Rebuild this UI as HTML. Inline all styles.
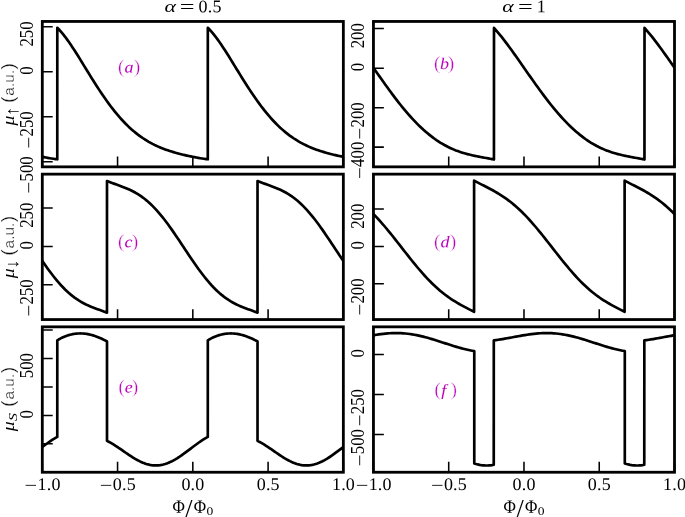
<!DOCTYPE html>
<html><head><meta charset="utf-8"><title>figure</title>
<style>html,body{margin:0;padding:0;background:#fff}svg{display:block}.s{font-family:"Liberation Serif",serif}.ss{font-family:"Liberation Sans",sans-serif}.i{font-style:italic}</style></head><body>
<svg width="685" height="517" viewBox="0 0 685 517">
<rect width="685" height="517" fill="#fff"/>
<defs>
<clipPath id="cpa"><rect x="42.30" y="21.45" width="301.05" height="145.40"/></clipPath>
<clipPath id="cpb"><rect x="373.45" y="21.45" width="301.05" height="145.40"/></clipPath>
<clipPath id="cpc"><rect x="42.30" y="174.15" width="301.05" height="145.40"/></clipPath>
<clipPath id="cpd"><rect x="373.45" y="174.15" width="301.05" height="145.40"/></clipPath>
<clipPath id="cpe"><rect x="42.30" y="326.85" width="301.05" height="145.40"/></clipPath>
<clipPath id="cpf"><rect x="373.45" y="326.85" width="301.05" height="145.40"/></clipPath>
</defs>
<g clip-path="url(#cpa)"><path d="M-106.59 157.18 L-104.68 157.54 L-102.78 157.88 L-100.87 158.21 L-98.97 158.51 L-97.06 158.80 L-95.16 159.06 L-93.25 159.29 L-93.23 27.81 L-91.32 29.75 L-89.41 31.86 L-87.51 34.14 L-85.60 36.56 L-83.70 39.11 L-81.79 41.78 L-79.89 44.55 L-77.98 47.40 L-76.08 50.32 L-74.17 53.30 L-72.27 56.33 L-70.36 59.39 L-68.46 62.48 L-66.55 65.58 L-64.65 68.68 L-62.74 71.78 L-60.84 74.87 L-58.93 77.93 L-57.03 80.97 L-55.12 83.98 L-53.22 86.94 L-51.31 89.86 L-49.41 92.73 L-47.50 95.55 L-45.60 98.30 L-43.69 100.99 L-41.79 103.62 L-39.88 106.18 L-37.98 108.66 L-36.07 111.08 L-34.17 113.42 L-32.26 115.68 L-30.36 117.87 L-28.45 119.98 L-26.55 122.01 L-24.64 123.97 L-22.74 125.85 L-20.83 127.66 L-18.93 129.38 L-17.02 131.04 L-15.12 132.62 L-13.21 134.13 L-11.31 135.57 L-9.40 136.94 L-7.50 138.25 L-5.59 139.49 L-3.69 140.67 L-1.78 141.80 L0.12 142.86 L2.03 143.87 L3.93 144.83 L5.84 145.74 L7.74 146.60 L9.65 147.42 L11.55 148.20 L13.46 148.94 L15.36 149.64 L17.27 150.31 L19.17 150.95 L21.08 151.55 L22.98 152.14 L24.89 152.69 L26.79 153.22 L28.70 153.73 L30.60 154.22 L32.51 154.69 L34.41 155.15 L36.32 155.58 L38.22 156.01 L40.13 156.41 L42.03 156.80 L43.94 157.18 L45.84 157.54 L47.75 157.88 L49.65 158.21 L51.56 158.51 L53.46 158.80 L55.37 159.06 L57.28 159.29 L57.30 27.81 L59.21 29.75 L61.11 31.86 L63.02 34.14 L64.92 36.56 L66.83 39.11 L68.73 41.78 L70.64 44.55 L72.54 47.40 L74.45 50.32 L76.35 53.30 L78.26 56.33 L80.16 59.39 L82.07 62.48 L83.97 65.58 L85.88 68.68 L87.78 71.78 L89.69 74.87 L91.59 77.93 L93.50 80.97 L95.40 83.98 L97.31 86.94 L99.21 89.86 L101.12 92.73 L103.02 95.55 L104.93 98.30 L106.83 100.99 L108.74 103.62 L110.64 106.18 L112.55 108.66 L114.45 111.08 L116.36 113.42 L118.26 115.68 L120.17 117.87 L122.07 119.98 L123.98 122.01 L125.88 123.97 L127.79 125.85 L129.69 127.66 L131.60 129.38 L133.50 131.04 L135.41 132.62 L137.31 134.13 L139.22 135.57 L141.12 136.94 L143.03 138.25 L144.93 139.49 L146.84 140.67 L148.74 141.80 L150.65 142.86 L152.55 143.87 L154.46 144.83 L156.36 145.74 L158.27 146.60 L160.17 147.42 L162.08 148.20 L163.98 148.94 L165.89 149.64 L167.79 150.31 L169.70 150.95 L171.60 151.55 L173.51 152.14 L175.41 152.69 L177.32 153.22 L179.22 153.73 L181.13 154.22 L183.03 154.69 L184.94 155.15 L186.84 155.58 L188.75 156.01 L190.65 156.41 L192.56 156.80 L194.46 157.18 L196.37 157.54 L198.27 157.88 L200.18 158.21 L202.08 158.51 L203.99 158.80 L205.89 159.06 L207.80 159.29 L207.82 27.81 L209.73 29.75 L211.64 31.86 L213.54 34.14 L215.45 36.56 L217.35 39.11 L219.26 41.78 L221.16 44.55 L223.07 47.40 L224.97 50.32 L226.88 53.30 L228.78 56.33 L230.69 59.39 L232.59 62.48 L234.50 65.58 L236.40 68.68 L238.31 71.78 L240.21 74.87 L242.12 77.93 L244.02 80.97 L245.93 83.98 L247.83 86.94 L249.74 89.86 L251.64 92.73 L253.55 95.55 L255.45 98.30 L257.36 100.99 L259.26 103.62 L261.17 106.18 L263.07 108.66 L264.98 111.08 L266.88 113.42 L268.79 115.68 L270.69 117.87 L272.60 119.98 L274.50 122.01 L276.41 123.97 L278.31 125.85 L280.22 127.66 L282.12 129.38 L284.03 131.04 L285.93 132.62 L287.84 134.13 L289.74 135.57 L291.65 136.94 L293.55 138.25 L295.46 139.49 L297.36 140.67 L299.27 141.80 L301.17 142.86 L303.08 143.87 L304.98 144.83 L306.89 145.74 L308.79 146.60 L310.70 147.42 L312.60 148.20 L314.51 148.94 L316.41 149.64 L318.32 150.31 L320.22 150.95 L322.13 151.55 L324.03 152.14 L325.94 152.69 L327.84 153.22 L329.75 153.73 L331.65 154.22 L333.56 154.69 L335.46 155.15 L337.37 155.58 L339.27 156.01 L341.18 156.41 L343.08 156.80 L344.99 157.18 L346.89 157.54 L348.80 157.88 L350.70 158.21 L352.61 158.51 L354.51 158.80 L356.42 159.06 L358.33 159.29 L358.35 27.81 L360.26 29.75 L362.16 31.86 L364.07 34.14 L365.97 36.56 L367.88 39.11 L369.78 41.78 L371.69 44.55 L373.59 47.40 L375.50 50.32 L377.40 53.30 L379.31 56.33 L381.21 59.39 L383.12 62.48 L385.02 65.58 L386.93 68.68 L388.83 71.78 L390.74 74.87 L392.64 77.93 L394.55 80.97 L396.45 83.98 L398.36 86.94 L400.26 89.86 L402.17 92.73 L404.07 95.55 L405.98 98.30 L407.88 100.99 L409.79 103.62 L411.69 106.18 L413.60 108.66 L415.50 111.08 L417.41 113.42 L419.31 115.68 L421.22 117.87 L423.12 119.98 L425.03 122.01 L426.93 123.97 L428.84 125.85 L430.74 127.66 L432.65 129.38 L434.55 131.04 L436.46 132.62 L438.36 134.13 L440.27 135.57 L442.17 136.94 L444.08 138.25 L445.98 139.49 L447.89 140.67 L449.79 141.80 L451.70 142.86 L453.60 143.87 L455.51 144.83 L457.41 145.74 L459.32 146.60 L461.22 147.42 L463.13 148.20 L465.03 148.94 L466.94 149.64 L468.84 150.31 L470.75 150.95 L472.65 151.55 L474.56 152.14 L476.46 152.69 L478.37 153.22 L480.27 153.73 L482.18 154.22 L484.08 154.69 L485.99 155.15 L487.89 155.58 L489.80 156.01 L491.70 156.41 L493.61 156.80" fill="none" stroke="#000" stroke-width="2.68" stroke-linejoin="round" stroke-linecap="butt"/></g>
<path d="M42.30 166.85 V156.45 M117.56 166.85 V156.45 M192.82 166.85 V156.45 M268.09 166.85 V156.45 M343.35 166.85 V156.45 M42.30 26.80 H52.70 M42.30 71.75 H52.70 M42.30 116.70 H52.70 M42.30 161.65 H52.70" stroke="#000" stroke-width="1.55" fill="none"/>
<rect x="42.30" y="21.45" width="301.05" height="145.40" fill="none" stroke="#000" stroke-width="2.80"/>
<g class="s" font-size="16.8" transform="translate(33.00 21.40) rotate(-90) scale(1 1.090)"><text text-anchor="end" x="0" y="0">250</text></g>
<g class="s" font-size="16.8" transform="translate(33.00 66.35) rotate(-90) scale(1 1.090)"><text text-anchor="end" x="0" y="0">0</text></g>
<g class="s" font-size="16.8" transform="translate(33.00 111.30) rotate(-90) scale(1 1.090)"><text text-anchor="end" x="0" y="0">250</text><text x="-37.20" y="2.0" textLength="11.7" lengthAdjust="spacingAndGlyphs">−</text></g>
<g class="s" font-size="16.8" transform="translate(33.00 156.25) rotate(-90) scale(1 1.090)"><text text-anchor="end" x="0" y="0">500</text><text x="-37.20" y="2.0" textLength="11.7" lengthAdjust="spacingAndGlyphs">−</text></g>
<g clip-path="url(#cpb)"><path d="M223.42 68.44 L225.33 71.18 L227.23 73.90 L229.14 76.62 L231.04 79.33 L232.95 82.02 L234.85 84.69 L236.76 87.33 L238.66 89.95 L240.57 92.54 L242.47 95.10 L244.38 97.63 L246.28 100.11 L248.19 102.56 L250.09 104.96 L252.00 107.31 L253.90 109.62 L255.80 111.88 L257.71 114.09 L259.61 116.25 L261.52 118.35 L263.42 120.40 L265.33 122.39 L267.23 124.32 L269.14 126.19 L271.04 128.00 L272.95 129.76 L274.85 131.45 L276.76 133.08 L278.66 134.65 L280.57 136.15 L282.47 137.60 L284.37 138.99 L286.28 140.31 L288.18 141.57 L290.09 142.78 L291.99 143.92 L293.90 145.01 L295.80 146.04 L297.71 147.02 L299.61 147.94 L301.52 148.81 L303.42 149.62 L305.33 150.39 L307.23 151.11 L309.14 151.79 L311.04 152.42 L312.95 153.01 L314.85 153.57 L316.75 154.09 L318.66 154.57 L320.56 155.03 L322.47 155.46 L324.37 155.87 L326.28 156.26 L328.18 156.63 L330.09 156.99 L331.99 157.35 L333.90 157.70 L335.80 158.04 L337.71 158.39 L339.61 158.75 L341.52 159.13 L343.42 159.52 L343.48 27.94 L345.38 30.08 L347.28 32.30 L349.19 34.60 L351.09 36.96 L353.00 39.38 L354.90 41.86 L356.81 44.39 L358.71 46.95 L360.62 49.56 L362.52 52.20 L364.43 54.87 L366.33 57.56 L368.24 60.26 L370.14 62.98 L372.05 65.71 L373.95 68.44 L375.85 71.18 L377.76 73.90 L379.66 76.62 L381.57 79.33 L383.47 82.02 L385.38 84.69 L387.28 87.33 L389.19 89.95 L391.09 92.54 L393.00 95.10 L394.90 97.63 L396.81 100.11 L398.71 102.56 L400.62 104.96 L402.52 107.31 L404.42 109.62 L406.33 111.88 L408.23 114.09 L410.14 116.25 L412.04 118.35 L413.95 120.40 L415.85 122.39 L417.76 124.32 L419.66 126.19 L421.57 128.00 L423.47 129.76 L425.38 131.45 L427.28 133.08 L429.19 134.65 L431.09 136.15 L433.00 137.60 L434.90 138.99 L436.80 140.31 L438.71 141.57 L440.61 142.78 L442.52 143.92 L444.42 145.01 L446.33 146.04 L448.23 147.02 L450.14 147.94 L452.04 148.81 L453.95 149.62 L455.85 150.39 L457.76 151.11 L459.66 151.79 L461.57 152.42 L463.47 153.01 L465.37 153.57 L467.28 154.09 L469.18 154.57 L471.09 155.03 L472.99 155.46 L474.90 155.87 L476.80 156.26 L478.71 156.63 L480.61 156.99 L482.52 157.35 L484.42 157.70 L486.33 158.04 L488.23 158.39 L490.14 158.75 L492.04 159.13 L493.95 159.52 L494.00 27.94 L495.90 30.08 L497.81 32.30 L499.71 34.60 L501.62 36.96 L503.52 39.38 L505.43 41.86 L507.33 44.39 L509.24 46.95 L511.14 49.56 L513.05 52.20 L514.95 54.87 L516.86 57.56 L518.76 60.26 L520.67 62.98 L522.57 65.71 L524.47 68.44 L526.38 71.18 L528.28 73.90 L530.19 76.62 L532.09 79.33 L534.00 82.02 L535.90 84.69 L537.81 87.33 L539.71 89.95 L541.62 92.54 L543.52 95.10 L545.43 97.63 L547.33 100.11 L549.24 102.56 L551.14 104.96 L553.05 107.31 L554.95 109.62 L556.85 111.88 L558.76 114.09 L560.66 116.25 L562.57 118.35 L564.47 120.40 L566.38 122.39 L568.28 124.32 L570.19 126.19 L572.09 128.00 L574.00 129.76 L575.90 131.45 L577.81 133.08 L579.71 134.65 L581.62 136.15 L583.52 137.60 L585.42 138.99 L587.33 140.31 L589.23 141.57 L591.14 142.78 L593.04 143.92 L594.95 145.01 L596.85 146.04 L598.76 147.02 L600.66 147.94 L602.57 148.81 L604.47 149.62 L606.38 150.39 L608.28 151.11 L610.19 151.79 L612.09 152.42 L614.00 153.01 L615.90 153.57 L617.80 154.09 L619.71 154.57 L621.61 155.03 L623.52 155.46 L625.42 155.87 L627.33 156.26 L629.23 156.63 L631.14 156.99 L633.04 157.35 L634.95 157.70 L636.85 158.04 L638.76 158.39 L640.66 158.75 L642.57 159.13 L644.47 159.52 L644.52 27.94 L646.43 30.08 L648.33 32.30 L650.24 34.60 L652.14 36.96 L654.05 39.38 L655.95 41.86 L657.86 44.39 L659.76 46.95 L661.67 49.56 L663.57 52.20 L665.48 54.87 L667.38 57.56 L669.29 60.26 L671.19 62.98 L673.10 65.71 L675.00 68.44 L676.90 71.18 L678.81 73.90 L680.71 76.62 L682.62 79.33 L684.52 82.02 L686.43 84.69 L688.33 87.33 L690.24 89.95 L692.14 92.54 L694.05 95.10 L695.95 97.63 L697.86 100.11 L699.76 102.56 L701.67 104.96 L703.57 107.31 L705.47 109.62 L707.38 111.88 L709.28 114.09 L711.19 116.25 L713.09 118.35 L715.00 120.40 L716.90 122.39 L718.81 124.32 L720.71 126.19 L722.62 128.00 L724.52 129.76 L726.43 131.45 L728.33 133.08 L730.24 134.65 L732.14 136.15 L734.05 137.60 L735.95 138.99 L737.85 140.31 L739.76 141.57 L741.66 142.78 L743.57 143.92 L745.47 145.01 L747.38 146.04 L749.28 147.02 L751.19 147.94 L753.09 148.81 L755.00 149.62 L756.90 150.39 L758.81 151.11 L760.71 151.79 L762.62 152.42 L764.52 153.01 L766.42 153.57 L768.33 154.09 L770.23 154.57 L772.14 155.03 L774.04 155.46 L775.95 155.87 L777.85 156.26 L779.76 156.63 L781.66 156.99 L783.57 157.35 L785.47 157.70 L787.38 158.04 L789.28 158.39 L791.19 158.75 L793.09 159.13 L795.00 159.52 L795.05 27.94 L796.95 30.08 L798.86 32.30 L800.76 34.60 L802.67 36.96 L804.57 39.38 L806.48 41.86 L808.38 44.39 L810.29 46.95 L812.19 49.56 L814.10 52.20 L816.00 54.87 L817.91 57.56 L819.81 60.26 L821.72 62.98 L823.62 65.71" fill="none" stroke="#000" stroke-width="2.68" stroke-linejoin="round" stroke-linecap="butt"/></g>
<path d="M373.45 166.85 V156.45 M448.71 166.85 V156.45 M523.98 166.85 V156.45 M599.24 166.85 V156.45 M674.50 166.85 V156.45 M373.45 28.50 H383.85 M373.45 68.20 H383.85 M373.45 107.65 H383.85 M373.45 147.10 H383.85" stroke="#000" stroke-width="1.55" fill="none"/>
<rect x="373.45" y="21.45" width="301.05" height="145.40" fill="none" stroke="#000" stroke-width="2.80"/>
<g class="s" font-size="16.8" transform="translate(364.15 23.10) rotate(-90) scale(1 1.090)"><text text-anchor="end" x="0" y="0">200</text></g>
<g class="s" font-size="16.8" transform="translate(364.15 62.80) rotate(-90) scale(1 1.090)"><text text-anchor="end" x="0" y="0">0</text></g>
<g class="s" font-size="16.8" transform="translate(364.15 102.25) rotate(-90) scale(1 1.090)"><text text-anchor="end" x="0" y="0">200</text><text x="-37.20" y="2.0" textLength="11.7" lengthAdjust="spacingAndGlyphs">−</text></g>
<g class="s" font-size="16.8" transform="translate(364.15 141.70) rotate(-90) scale(1 1.090)"><text text-anchor="end" x="0" y="0">400</text><text x="-37.20" y="2.0" textLength="11.7" lengthAdjust="spacingAndGlyphs">−</text></g>
<g clip-path="url(#cpc)"><path d="M-106.42 263.56 L-104.51 266.27 L-102.61 268.94 L-100.70 271.53 L-98.80 274.06 L-96.89 276.52 L-94.99 278.90 L-93.08 281.19 L-91.18 283.39 L-89.27 285.51 L-87.37 287.52 L-85.46 289.44 L-83.56 291.27 L-81.65 292.99 L-79.75 294.62 L-77.84 296.16 L-75.94 297.59 L-74.03 298.94 L-72.13 300.20 L-70.22 301.38 L-68.32 302.47 L-66.41 303.49 L-64.51 304.45 L-62.60 305.34 L-60.70 306.18 L-58.79 306.98 L-56.89 307.73 L-54.98 308.45 L-53.08 309.16 L-51.17 309.84 L-49.27 310.53 L-47.36 311.21 L-45.46 311.91 L-43.55 312.63 L-43.53 180.97 L-41.62 181.74 L-39.71 182.48 L-37.81 183.19 L-35.90 183.88 L-34.00 184.56 L-32.09 185.25 L-30.19 185.94 L-28.28 186.65 L-26.38 187.39 L-24.47 188.15 L-22.57 188.97 L-20.66 189.83 L-18.76 190.74 L-16.85 191.73 L-14.95 192.78 L-13.04 193.90 L-11.14 195.11 L-9.23 196.41 L-7.33 197.79 L-5.42 199.27 L-3.52 200.84 L-1.61 202.51 L0.29 204.27 L2.20 206.13 L4.10 208.09 L6.01 210.15 L7.91 212.30 L9.82 214.54 L11.72 216.87 L13.63 219.28 L15.53 221.76 L17.44 224.32 L19.34 226.95 L21.25 229.63 L23.15 232.37 L25.06 235.15 L26.96 237.96 L28.87 240.81 L30.77 243.67 L32.68 246.55 L34.58 249.43 L36.49 252.30 L38.39 255.16 L40.30 257.99 L42.20 260.80 L44.11 263.56 L46.01 266.27 L47.92 268.94 L49.82 271.53 L51.73 274.06 L53.63 276.52 L55.54 278.90 L57.44 281.19 L59.35 283.39 L61.25 285.51 L63.16 287.52 L65.06 289.44 L66.97 291.27 L68.87 292.99 L70.78 294.62 L72.68 296.16 L74.59 297.59 L76.49 298.94 L78.40 300.20 L80.30 301.38 L82.21 302.47 L84.11 303.49 L86.02 304.45 L87.92 305.34 L89.83 306.18 L91.73 306.98 L93.64 307.73 L95.54 308.45 L97.45 309.16 L99.35 309.84 L101.26 310.53 L103.16 311.21 L105.07 311.91 L106.97 312.63 L107.00 180.97 L108.91 181.74 L110.81 182.48 L112.72 183.19 L114.62 183.88 L116.53 184.56 L118.43 185.25 L120.34 185.94 L122.24 186.65 L124.15 187.39 L126.05 188.15 L127.96 188.97 L129.86 189.83 L131.77 190.74 L133.67 191.73 L135.58 192.78 L137.48 193.90 L139.39 195.11 L141.29 196.41 L143.20 197.79 L145.10 199.27 L147.01 200.84 L148.91 202.51 L150.82 204.27 L152.72 206.13 L154.63 208.09 L156.53 210.15 L158.44 212.30 L160.34 214.54 L162.25 216.87 L164.15 219.28 L166.06 221.76 L167.96 224.32 L169.87 226.95 L171.77 229.63 L173.68 232.37 L175.58 235.15 L177.49 237.96 L179.39 240.81 L181.30 243.67 L183.20 246.55 L185.11 249.43 L187.01 252.30 L188.92 255.16 L190.82 257.99 L192.73 260.80 L194.63 263.56 L196.54 266.27 L198.44 268.94 L200.35 271.53 L202.25 274.06 L204.16 276.52 L206.06 278.90 L207.97 281.19 L209.87 283.39 L211.78 285.51 L213.68 287.52 L215.59 289.44 L217.49 291.27 L219.40 292.99 L221.30 294.62 L223.21 296.16 L225.11 297.59 L227.02 298.94 L228.92 300.20 L230.83 301.38 L232.73 302.47 L234.64 303.49 L236.54 304.45 L238.45 305.34 L240.35 306.18 L242.26 306.98 L244.16 307.73 L246.07 308.45 L247.97 309.16 L249.88 309.84 L251.78 310.53 L253.69 311.21 L255.59 311.91 L257.50 312.63 L257.52 180.97 L259.43 181.74 L261.34 182.48 L263.24 183.19 L265.15 183.88 L267.05 184.56 L268.96 185.25 L270.86 185.94 L272.77 186.65 L274.67 187.39 L276.58 188.15 L278.48 188.97 L280.39 189.83 L282.29 190.74 L284.20 191.73 L286.10 192.78 L288.01 193.90 L289.91 195.11 L291.82 196.41 L293.72 197.79 L295.63 199.27 L297.53 200.84 L299.44 202.51 L301.34 204.27 L303.25 206.13 L305.15 208.09 L307.06 210.15 L308.96 212.30 L310.87 214.54 L312.77 216.87 L314.68 219.28 L316.58 221.76 L318.49 224.32 L320.39 226.95 L322.30 229.63 L324.20 232.37 L326.11 235.15 L328.01 237.96 L329.92 240.81 L331.82 243.67 L333.73 246.55 L335.63 249.43 L337.54 252.30 L339.44 255.16 L341.35 257.99 L343.25 260.80 L345.16 263.56 L347.06 266.27 L348.97 268.94 L350.87 271.53 L352.78 274.06 L354.68 276.52 L356.59 278.90 L358.49 281.19 L360.40 283.39 L362.30 285.51 L364.21 287.52 L366.11 289.44 L368.02 291.27 L369.92 292.99 L371.83 294.62 L373.73 296.16 L375.64 297.59 L377.54 298.94 L379.45 300.20 L381.35 301.38 L383.26 302.47 L385.16 303.49 L387.07 304.45 L388.97 305.34 L390.88 306.18 L392.78 306.98 L394.69 307.73 L396.59 308.45 L398.50 309.16 L400.40 309.84 L402.31 310.53 L404.21 311.21 L406.12 311.91 L408.02 312.63 L408.05 180.97 L409.96 181.74 L411.86 182.48 L413.77 183.19 L415.67 183.88 L417.58 184.56 L419.48 185.25 L421.39 185.94 L423.29 186.65 L425.20 187.39 L427.10 188.15 L429.01 188.97 L430.91 189.83 L432.82 190.74 L434.72 191.73 L436.63 192.78 L438.53 193.90 L440.44 195.11 L442.34 196.41 L444.25 197.79 L446.15 199.27 L448.06 200.84 L449.96 202.51 L451.87 204.27 L453.77 206.13 L455.68 208.09 L457.58 210.15 L459.49 212.30 L461.39 214.54 L463.30 216.87 L465.20 219.28 L467.11 221.76 L469.01 224.32 L470.92 226.95 L472.82 229.63 L474.73 232.37 L476.63 235.15 L478.54 237.96 L480.44 240.81 L482.35 243.67 L484.25 246.55 L486.16 249.43 L488.06 252.30 L489.97 255.16 L491.87 257.99 L493.78 260.80" fill="none" stroke="#000" stroke-width="2.68" stroke-linejoin="round" stroke-linecap="butt"/></g>
<path d="M42.30 319.55 V309.15 M117.56 319.55 V309.15 M192.82 319.55 V309.15 M268.09 319.55 V309.15 M343.35 319.55 V309.15 M42.30 208.00 H52.70 M42.30 246.40 H52.70 M42.30 284.70 H52.70" stroke="#000" stroke-width="1.55" fill="none"/>
<rect x="42.30" y="174.15" width="301.05" height="145.40" fill="none" stroke="#000" stroke-width="2.80"/>
<g class="s" font-size="16.8" transform="translate(33.00 202.60) rotate(-90) scale(1 1.090)"><text text-anchor="end" x="0" y="0">250</text></g>
<g class="s" font-size="16.8" transform="translate(33.00 241.00) rotate(-90) scale(1 1.090)"><text text-anchor="end" x="0" y="0">0</text></g>
<g class="s" font-size="16.8" transform="translate(33.00 279.30) rotate(-90) scale(1 1.090)"><text text-anchor="end" x="0" y="0">250</text><text x="-37.20" y="2.0" textLength="11.7" lengthAdjust="spacingAndGlyphs">−</text></g>
<g clip-path="url(#cpd)"><path d="M224.49 215.68 L226.39 217.68 L228.30 219.75 L230.20 221.87 L232.11 224.03 L234.01 226.25 L235.92 228.51 L237.82 230.80 L239.73 233.14 L241.63 235.50 L243.54 237.89 L245.44 240.30 L247.35 242.73 L249.25 245.17 L251.16 247.61 L253.06 250.06 L254.97 252.49 L256.87 254.92 L258.78 257.34 L260.68 259.73 L262.59 262.10 L264.49 264.43 L266.40 266.73 L268.30 269.00 L270.21 271.22 L272.11 273.39 L274.02 275.51 L275.92 277.59 L277.83 279.60 L279.73 281.56 L281.64 283.45 L283.54 285.29 L285.45 287.06 L287.35 288.77 L289.26 290.42 L291.16 292.01 L293.07 293.53 L294.97 295.00 L296.88 296.40 L298.78 297.75 L300.69 299.05 L302.59 300.29 L304.50 301.49 L306.40 302.64 L308.31 303.76 L310.21 304.83 L312.12 305.88 L314.02 306.90 L315.93 307.90 L317.83 308.88 L319.74 309.85 L321.64 310.81 L323.55 311.78 L323.58 180.68 L325.48 181.67 L327.39 182.65 L329.29 183.62 L331.20 184.58 L333.10 185.54 L335.01 186.51 L336.91 187.49 L338.82 188.49 L340.72 189.51 L342.63 190.55 L344.53 191.62 L346.44 192.73 L348.34 193.88 L350.25 195.07 L352.15 196.31 L354.06 197.60 L355.96 198.94 L357.87 200.34 L359.77 201.80 L361.68 203.32 L363.58 204.90 L365.49 206.54 L367.39 208.24 L369.30 210.01 L371.20 211.84 L373.11 213.73 L375.01 215.68 L376.92 217.68 L378.82 219.75 L380.73 221.87 L382.63 224.03 L384.54 226.25 L386.44 228.51 L388.35 230.80 L390.25 233.14 L392.16 235.50 L394.06 237.89 L395.97 240.30 L397.87 242.73 L399.78 245.17 L401.68 247.61 L403.59 250.06 L405.49 252.49 L407.40 254.92 L409.30 257.34 L411.21 259.73 L413.11 262.10 L415.02 264.43 L416.92 266.73 L418.83 269.00 L420.73 271.22 L422.64 273.39 L424.54 275.51 L426.45 277.59 L428.35 279.60 L430.26 281.56 L432.16 283.45 L434.07 285.29 L435.97 287.06 L437.88 288.77 L439.78 290.42 L441.69 292.01 L443.59 293.53 L445.50 295.00 L447.40 296.40 L449.31 297.75 L451.21 299.05 L453.12 300.29 L455.02 301.49 L456.93 302.64 L458.83 303.76 L460.74 304.83 L462.64 305.88 L464.55 306.90 L466.45 307.90 L468.36 308.88 L470.26 309.85 L472.17 310.81 L474.08 311.78 L474.10 180.68 L476.01 181.67 L477.91 182.65 L479.82 183.62 L481.72 184.58 L483.63 185.54 L485.53 186.51 L487.44 187.49 L489.34 188.49 L491.25 189.51 L493.15 190.55 L495.06 191.62 L496.96 192.73 L498.87 193.88 L500.77 195.07 L502.68 196.31 L504.58 197.60 L506.49 198.94 L508.39 200.34 L510.30 201.80 L512.20 203.32 L514.11 204.90 L516.01 206.54 L517.92 208.24 L519.82 210.01 L521.73 211.84 L523.63 213.73 L525.54 215.68 L527.44 217.68 L529.35 219.75 L531.25 221.87 L533.16 224.03 L535.06 226.25 L536.97 228.51 L538.87 230.80 L540.78 233.14 L542.68 235.50 L544.59 237.89 L546.49 240.30 L548.40 242.73 L550.30 245.17 L552.21 247.61 L554.11 250.06 L556.02 252.49 L557.92 254.92 L559.83 257.34 L561.73 259.73 L563.64 262.10 L565.54 264.43 L567.45 266.73 L569.35 269.00 L571.26 271.22 L573.16 273.39 L575.07 275.51 L576.97 277.59 L578.88 279.60 L580.78 281.56 L582.69 283.45 L584.59 285.29 L586.50 287.06 L588.40 288.77 L590.31 290.42 L592.21 292.01 L594.12 293.53 L596.02 295.00 L597.93 296.40 L599.83 297.75 L601.74 299.05 L603.64 300.29 L605.55 301.49 L607.45 302.64 L609.36 303.76 L611.26 304.83 L613.17 305.88 L615.07 306.90 L616.98 307.90 L618.88 308.88 L620.79 309.85 L622.69 310.81 L624.60 311.78 L624.62 180.68 L626.53 181.67 L628.44 182.65 L630.34 183.62 L632.25 184.58 L634.15 185.54 L636.06 186.51 L637.96 187.49 L639.87 188.49 L641.77 189.51 L643.68 190.55 L645.58 191.62 L647.49 192.73 L649.39 193.88 L651.30 195.07 L653.20 196.31 L655.11 197.60 L657.01 198.94 L658.92 200.34 L660.82 201.80 L662.73 203.32 L664.63 204.90 L666.54 206.54 L668.44 208.24 L670.35 210.01 L672.25 211.84 L674.16 213.73 L676.06 215.68 L677.97 217.68 L679.87 219.75 L681.78 221.87 L683.68 224.03 L685.59 226.25 L687.49 228.51 L689.40 230.80 L691.30 233.14 L693.21 235.50 L695.11 237.89 L697.02 240.30 L698.92 242.73 L700.83 245.17 L702.73 247.61 L704.64 250.06 L706.54 252.49 L708.45 254.92 L710.35 257.34 L712.26 259.73 L714.16 262.10 L716.07 264.43 L717.97 266.73 L719.88 269.00 L721.78 271.22 L723.69 273.39 L725.59 275.51 L727.50 277.59 L729.40 279.60 L731.31 281.56 L733.21 283.45 L735.12 285.29 L737.02 287.06 L738.93 288.77 L740.83 290.42 L742.74 292.01 L744.64 293.53 L746.55 295.00 L748.45 296.40 L750.36 297.75 L752.26 299.05 L754.17 300.29 L756.07 301.49 L757.98 302.64 L759.88 303.76 L761.79 304.83 L763.69 305.88 L765.60 306.90 L767.50 307.90 L769.41 308.88 L771.31 309.85 L773.22 310.81 L775.12 311.78 L775.15 180.68 L777.06 181.67 L778.96 182.65 L780.87 183.62 L782.77 184.58 L784.68 185.54 L786.58 186.51 L788.49 187.49 L790.39 188.49 L792.30 189.51 L794.20 190.55 L796.11 191.62 L798.01 192.73 L799.92 193.88 L801.82 195.07 L803.73 196.31 L805.63 197.60 L807.54 198.94 L809.44 200.34 L811.35 201.80 L813.25 203.32 L815.16 204.90 L817.06 206.54 L818.97 208.24 L820.87 210.01 L822.78 211.84 L824.68 213.73" fill="none" stroke="#000" stroke-width="2.68" stroke-linejoin="round" stroke-linecap="butt"/></g>
<path d="M373.45 319.55 V309.15 M448.71 319.55 V309.15 M523.98 319.55 V309.15 M599.24 319.55 V309.15 M674.50 319.55 V309.15 M373.45 209.00 H383.85 M373.45 246.40 H383.85 M373.45 283.80 H383.85" stroke="#000" stroke-width="1.55" fill="none"/>
<rect x="373.45" y="174.15" width="301.05" height="145.40" fill="none" stroke="#000" stroke-width="2.80"/>
<g class="s" font-size="16.8" transform="translate(364.15 203.60) rotate(-90) scale(1 1.090)"><text text-anchor="end" x="0" y="0">200</text></g>
<g class="s" font-size="16.8" transform="translate(364.15 241.00) rotate(-90) scale(1 1.090)"><text text-anchor="end" x="0" y="0">0</text></g>
<g class="s" font-size="16.8" transform="translate(364.15 278.40) rotate(-90) scale(1 1.090)"><text text-anchor="end" x="0" y="0">200</text><text x="-37.20" y="2.0" textLength="11.7" lengthAdjust="spacingAndGlyphs">−</text></g>
<g clip-path="url(#cpe)"><path d="M-106.92 445.99 L-105.21 444.72 L-103.50 443.47 L-101.79 442.26 L-100.08 441.09 L-98.38 439.96 L-96.67 438.88 L-94.96 437.87 L-93.25 436.92 L-93.23 340.29 L-91.95 339.53 L-90.68 338.82 L-89.40 338.15 L-88.13 337.53 L-86.85 336.95 L-85.58 336.42 L-84.30 335.94 L-83.03 335.50 L-81.76 335.10 L-80.48 334.75 L-79.21 334.44 L-77.93 334.18 L-76.66 333.95 L-75.38 333.77 L-74.11 333.63 L-72.84 333.53 L-71.56 333.47 L-70.29 333.45 L-69.01 333.47 L-67.74 333.53 L-66.46 333.63 L-65.19 333.77 L-63.91 333.94 L-62.64 334.16 L-61.37 334.40 L-60.09 334.69 L-58.82 335.01 L-57.54 335.37 L-56.27 335.76 L-54.99 336.18 L-53.72 336.64 L-52.45 337.14 L-51.17 337.67 L-49.90 338.22 L-48.62 338.82 L-47.35 339.44 L-46.07 340.10 L-44.80 340.78 L-43.53 341.50 L-43.53 440.86 L-41.82 441.73 L-40.11 442.67 L-38.40 443.66 L-36.69 444.70 L-34.98 445.79 L-33.27 446.91 L-31.57 448.06 L-29.86 449.22 L-28.15 450.40 L-26.44 451.59 L-24.73 452.77 L-23.02 453.94 L-21.31 455.08 L-19.61 456.21 L-17.90 457.29 L-16.19 458.34 L-14.48 459.33 L-12.77 460.28 L-11.06 461.15 L-9.36 461.96 L-7.65 462.70 L-5.94 463.36 L-4.23 463.93 L-2.52 464.42 L-0.81 464.82 L0.90 465.12 L2.60 465.33 L4.31 465.44 L6.02 465.45 L7.73 465.36 L9.44 465.17 L11.15 464.89 L12.85 464.51 L14.56 464.03 L16.27 463.46 L17.98 462.81 L19.69 462.06 L21.40 461.24 L23.11 460.34 L24.81 459.37 L26.52 458.34 L28.23 457.25 L29.94 456.11 L31.65 454.92 L33.36 453.70 L35.06 452.44 L36.77 451.17 L38.48 449.87 L40.19 448.58 L41.90 447.28 L43.61 445.99 L45.32 444.72 L47.02 443.47 L48.73 442.26 L50.44 441.09 L52.15 439.96 L53.86 438.88 L55.57 437.87 L57.28 436.92 L57.30 340.29 L58.57 339.53 L59.85 338.82 L61.12 338.15 L62.40 337.53 L63.67 336.95 L64.95 336.42 L66.22 335.94 L67.49 335.50 L68.77 335.10 L70.04 334.75 L71.32 334.44 L72.59 334.18 L73.87 333.95 L75.14 333.77 L76.42 333.63 L77.69 333.53 L78.96 333.47 L80.24 333.45 L81.51 333.47 L82.79 333.53 L84.06 333.63 L85.34 333.77 L86.61 333.94 L87.88 334.16 L89.16 334.40 L90.43 334.69 L91.71 335.01 L92.98 335.37 L94.26 335.76 L95.53 336.18 L96.81 336.64 L98.08 337.14 L99.35 337.67 L100.63 338.22 L101.90 338.82 L103.18 339.44 L104.45 340.10 L105.73 340.78 L107.00 341.50 L107.00 440.86 L108.71 441.73 L110.42 442.67 L112.13 443.66 L113.83 444.70 L115.54 445.79 L117.25 446.91 L118.96 448.06 L120.67 449.22 L122.38 450.40 L124.08 451.59 L125.79 452.77 L127.50 453.94 L129.21 455.08 L130.92 456.21 L132.63 457.29 L134.34 458.34 L136.04 459.33 L137.75 460.28 L139.46 461.15 L141.17 461.96 L142.88 462.70 L144.59 463.36 L146.29 463.93 L148.00 464.42 L149.71 464.82 L151.42 465.12 L153.13 465.33 L154.84 465.44 L156.55 465.45 L158.25 465.36 L159.96 465.17 L161.67 464.89 L163.38 464.51 L165.09 464.03 L166.80 463.46 L168.51 462.81 L170.21 462.06 L171.92 461.24 L173.63 460.34 L175.34 459.37 L177.05 458.34 L178.76 457.25 L180.46 456.11 L182.17 454.92 L183.88 453.70 L185.59 452.44 L187.30 451.17 L189.01 449.87 L190.72 448.58 L192.42 447.28 L194.13 445.99 L195.84 444.72 L197.55 443.47 L199.26 442.26 L200.97 441.09 L202.67 439.96 L204.38 438.88 L206.09 437.87 L207.80 436.92 L207.82 340.29 L209.10 339.53 L210.37 338.82 L211.65 338.15 L212.92 337.53 L214.20 336.95 L215.47 336.42 L216.75 335.94 L218.02 335.50 L219.29 335.10 L220.57 334.75 L221.84 334.44 L223.12 334.18 L224.39 333.95 L225.67 333.77 L226.94 333.63 L228.21 333.53 L229.49 333.47 L230.76 333.45 L232.04 333.47 L233.31 333.53 L234.59 333.63 L235.86 333.77 L237.14 333.94 L238.41 334.16 L239.68 334.40 L240.96 334.69 L242.23 335.01 L243.51 335.37 L244.78 335.76 L246.06 336.18 L247.33 336.64 L248.60 337.14 L249.88 337.67 L251.15 338.22 L252.43 338.82 L253.70 339.44 L254.98 340.10 L256.25 340.78 L257.52 341.50 L257.52 440.86 L259.23 441.73 L260.94 442.67 L262.65 443.66 L264.36 444.70 L266.07 445.79 L267.78 446.91 L269.48 448.06 L271.19 449.22 L272.90 450.40 L274.61 451.59 L276.32 452.77 L278.03 453.94 L279.74 455.08 L281.44 456.21 L283.15 457.29 L284.86 458.34 L286.57 459.33 L288.28 460.28 L289.99 461.15 L291.69 461.96 L293.40 462.70 L295.11 463.36 L296.82 463.93 L298.53 464.42 L300.24 464.82 L301.95 465.12 L303.65 465.33 L305.36 465.44 L307.07 465.45 L308.78 465.36 L310.49 465.17 L312.20 464.89 L313.90 464.51 L315.61 464.03 L317.32 463.46 L319.03 462.81 L320.74 462.06 L322.45 461.24 L324.16 460.34 L325.86 459.37 L327.57 458.34 L329.28 457.25 L330.99 456.11 L332.70 454.92 L334.41 453.70 L336.11 452.44 L337.82 451.17 L339.53 449.87 L341.24 448.58 L342.95 447.28 L344.66 445.99 L346.37 444.72 L348.07 443.47 L349.78 442.26 L351.49 441.09 L353.20 439.96 L354.91 438.88 L356.62 437.87 L358.33 436.92 L358.35 340.29 L359.62 339.53 L360.90 338.82 L362.17 338.15 L363.45 337.53 L364.72 336.95 L366.00 336.42 L367.27 335.94 L368.54 335.50 L369.82 335.10 L371.09 334.75 L372.37 334.44 L373.64 334.18 L374.92 333.95 L376.19 333.77 L377.47 333.63 L378.74 333.53 L380.01 333.47 L381.29 333.45 L382.56 333.47 L383.84 333.53 L385.11 333.63 L386.39 333.77 L387.66 333.94 L388.93 334.16 L390.21 334.40 L391.48 334.69 L392.76 335.01 L394.03 335.37 L395.31 335.76 L396.58 336.18 L397.86 336.64 L399.13 337.14 L400.40 337.67 L401.68 338.22 L402.95 338.82 L404.23 339.44 L405.50 340.10 L406.78 340.78 L408.05 341.50 L408.05 440.86 L409.76 441.73 L411.47 442.67 L413.18 443.66 L414.88 444.70 L416.59 445.79 L418.30 446.91 L420.01 448.06 L421.72 449.22 L423.43 450.40 L425.13 451.59 L426.84 452.77 L428.55 453.94 L430.26 455.08 L431.97 456.21 L433.68 457.29 L435.39 458.34 L437.09 459.33 L438.80 460.28 L440.51 461.15 L442.22 461.96 L443.93 462.70 L445.64 463.36 L447.34 463.93 L449.05 464.42 L450.76 464.82 L452.47 465.12 L454.18 465.33 L455.89 465.44 L457.60 465.45 L459.30 465.36 L461.01 465.17 L462.72 464.89 L464.43 464.51 L466.14 464.03 L467.85 463.46 L469.56 462.81 L471.26 462.06 L472.97 461.24 L474.68 460.34 L476.39 459.37 L478.10 458.34 L479.81 457.25 L481.51 456.11 L483.22 454.92 L484.93 453.70 L486.64 452.44 L488.35 451.17 L490.06 449.87 L491.77 448.58 L493.47 447.28" fill="none" stroke="#000" stroke-width="2.68" stroke-linejoin="round" stroke-linecap="butt"/></g>
<path d="M42.30 472.25 V461.85 M117.56 472.25 V461.85 M192.82 472.25 V461.85 M268.09 472.25 V461.85 M343.35 472.25 V461.85 M42.30 330.00 H52.70 M42.30 358.40 H52.70 M42.30 387.00 H52.70 M42.30 415.45 H52.70 M42.30 443.80 H52.70" stroke="#000" stroke-width="1.55" fill="none"/>
<rect x="42.30" y="326.85" width="301.05" height="145.40" fill="none" stroke="#000" stroke-width="2.80"/>
<g class="s" font-size="16.8" transform="translate(33.00 353.00) rotate(-90) scale(1 1.090)"><text text-anchor="end" x="0" y="0">500</text></g>
<g class="s" font-size="16.8" transform="translate(33.00 410.05) rotate(-90) scale(1 1.090)"><text text-anchor="end" x="0" y="0">0</text></g>
<g clip-path="url(#cpf)"><path d="M223.83 335.06 L226.06 334.71 L228.28 334.38 L230.50 334.09 L232.72 333.82 L234.94 333.59 L237.16 333.40 L239.38 333.26 L241.60 333.15 L243.82 333.09 L246.04 333.07 L248.26 333.11 L250.48 333.19 L252.70 333.32 L254.92 333.50 L257.14 333.73 L259.36 334.01 L261.58 334.34 L263.80 334.71 L266.02 335.13 L268.24 335.59 L270.46 336.09 L272.68 336.63 L274.90 337.20 L277.12 337.81 L279.34 338.45 L281.56 339.11 L283.78 339.79 L286.00 340.49 L288.22 341.20 L290.44 341.92 L292.67 342.65 L294.89 343.38 L297.11 344.10 L299.33 344.82 L301.55 345.52 L303.77 346.21 L305.99 346.88 L308.21 347.53 L310.43 348.14 L312.65 348.73 L314.87 349.28 L317.09 349.80 L319.31 350.28 L321.53 350.71 L323.75 351.10 L323.75 463.40 L325.52 463.96 L327.29 464.43 L329.06 464.82 L330.83 465.12 L332.60 465.34 L334.37 465.46 L336.14 465.50 L337.91 465.46 L339.68 465.32 L341.45 465.11 L343.22 464.80 L343.27 340.36 L345.50 340.08 L347.72 339.77 L349.94 339.43 L352.16 339.07 L354.38 338.69 L356.60 338.29 L358.82 337.89 L361.04 337.47 L363.26 337.05 L365.48 336.63 L367.70 336.22 L369.92 335.82 L372.14 335.43 L374.36 335.06 L376.58 334.71 L378.80 334.38 L381.02 334.09 L383.24 333.82 L385.46 333.59 L387.68 333.40 L389.90 333.26 L392.12 333.15 L394.34 333.09 L396.56 333.07 L398.78 333.11 L401.00 333.19 L403.22 333.32 L405.44 333.50 L407.66 333.73 L409.89 334.01 L412.11 334.34 L414.33 334.71 L416.55 335.13 L418.77 335.59 L420.99 336.09 L423.21 336.63 L425.43 337.20 L427.65 337.81 L429.87 338.45 L432.09 339.11 L434.31 339.79 L436.53 340.49 L438.75 341.20 L440.97 341.92 L443.19 342.65 L445.41 343.38 L447.63 344.10 L449.85 344.82 L452.07 345.52 L454.29 346.21 L456.51 346.88 L458.73 347.53 L460.95 348.14 L463.17 348.73 L465.39 349.28 L467.61 349.80 L469.83 350.28 L472.05 350.71 L474.27 351.10 L474.27 463.40 L476.04 463.96 L477.81 464.43 L479.59 464.82 L481.36 465.12 L483.12 465.34 L484.89 465.46 L486.66 465.50 L488.43 465.46 L490.21 465.32 L491.98 465.11 L493.75 464.80 L493.80 340.36 L496.02 340.08 L498.24 339.77 L500.46 339.43 L502.68 339.07 L504.90 338.69 L507.12 338.29 L509.34 337.89 L511.56 337.47 L513.78 337.05 L516.00 336.63 L518.22 336.22 L520.44 335.82 L522.66 335.43 L524.88 335.06 L527.11 334.71 L529.33 334.38 L531.55 334.09 L533.77 333.82 L535.99 333.59 L538.21 333.40 L540.43 333.26 L542.65 333.15 L544.87 333.09 L547.09 333.07 L549.31 333.11 L551.53 333.19 L553.75 333.32 L555.97 333.50 L558.19 333.73 L560.41 334.01 L562.63 334.34 L564.85 334.71 L567.07 335.13 L569.29 335.59 L571.51 336.09 L573.73 336.63 L575.95 337.20 L578.17 337.81 L580.39 338.45 L582.61 339.11 L584.83 339.79 L587.05 340.49 L589.27 341.20 L591.49 341.92 L593.72 342.65 L595.94 343.38 L598.16 344.10 L600.38 344.82 L602.60 345.52 L604.82 346.21 L607.04 346.88 L609.26 347.53 L611.48 348.14 L613.70 348.73 L615.92 349.28 L618.14 349.80 L620.36 350.28 L622.58 350.71 L624.80 351.10 L624.80 463.40 L626.57 463.96 L628.34 464.43 L630.11 464.82 L631.88 465.12 L633.65 465.34 L635.42 465.46 L637.19 465.50 L638.96 465.46 L640.73 465.32 L642.50 465.11 L644.27 464.80 L644.33 340.36 L646.55 340.08 L648.77 339.77 L650.99 339.43 L653.21 339.07 L655.43 338.69 L657.65 338.29 L659.87 337.89 L662.09 337.47 L664.31 337.05 L666.53 336.63 L668.75 336.22 L670.97 335.82 L673.19 335.43 L675.41 335.06 L677.63 334.71 L679.85 334.38 L682.07 334.09 L684.29 333.82 L686.51 333.59 L688.73 333.40 L690.95 333.26 L693.17 333.15 L695.39 333.09 L697.61 333.07 L699.83 333.11 L702.05 333.19 L704.27 333.32 L706.49 333.50 L708.71 333.73 L710.94 334.01 L713.16 334.34 L715.38 334.71 L717.60 335.13 L719.82 335.59 L722.04 336.09 L724.26 336.63 L726.48 337.20 L728.70 337.81 L730.92 338.45 L733.14 339.11 L735.36 339.79 L737.58 340.49 L739.80 341.20 L742.02 341.92 L744.24 342.65 L746.46 343.38 L748.68 344.10 L750.90 344.82 L753.12 345.52 L755.34 346.21 L757.56 346.88 L759.78 347.53 L762.00 348.14 L764.22 348.73 L766.44 349.28 L768.66 349.80 L770.88 350.28 L773.10 350.71 L775.32 351.10 L775.32 463.40 L777.09 463.96 L778.86 464.43 L780.63 464.82 L782.40 465.12 L784.17 465.34 L785.94 465.46 L787.71 465.50 L789.48 465.46 L791.25 465.32 L793.02 465.11 L794.79 464.80 L794.85 340.36 L797.07 340.08 L799.29 339.77 L801.51 339.43 L803.73 339.07 L805.95 338.69 L808.17 338.29 L810.39 337.89 L812.61 337.47 L814.83 337.05 L817.05 336.63 L819.27 336.22 L821.49 335.82 L823.71 335.43" fill="none" stroke="#000" stroke-width="2.68" stroke-linejoin="round" stroke-linecap="butt"/></g>
<path d="M373.45 472.25 V461.85 M448.71 472.25 V461.85 M523.98 472.25 V461.85 M599.24 472.25 V461.85 M674.50 472.25 V461.85 M373.45 354.40 H383.85 M373.45 394.40 H383.85 M373.45 434.40 H383.85" stroke="#000" stroke-width="1.55" fill="none"/>
<rect x="373.45" y="326.85" width="301.05" height="145.40" fill="none" stroke="#000" stroke-width="2.80"/>
<g class="s" font-size="16.8" transform="translate(364.15 349.00) rotate(-90) scale(1 1.090)"><text text-anchor="end" x="0" y="0">0</text></g>
<g class="s" font-size="16.8" transform="translate(364.15 389.00) rotate(-90) scale(1 1.090)"><text text-anchor="end" x="0" y="0">250</text><text x="-37.20" y="2.0" textLength="11.7" lengthAdjust="spacingAndGlyphs">−</text></g>
<g class="s" font-size="16.8" transform="translate(364.15 429.00) rotate(-90) scale(1 1.090)"><text text-anchor="end" x="0" y="0">500</text><text x="-37.20" y="2.0" textLength="11.7" lengthAdjust="spacingAndGlyphs">−</text></g>
<text class="s" font-size="17.8" x="24.50" y="491.1" textLength="12.64" lengthAdjust="spacingAndGlyphs">−</text><text class="s" font-size="17.80" transform="translate(37.50 489.90) rotate(0.03) scale(1.011 1)" letter-spacing="0.2">1.0</text>
<text class="s" font-size="17.8" x="99.76" y="491.1" textLength="12.64" lengthAdjust="spacingAndGlyphs">−</text><text class="s" font-size="17.80" transform="translate(112.76 489.90) rotate(0.03) scale(1.011 1)" letter-spacing="0.2">0.5</text>
<text class="s" font-size="17.80" transform="translate(181.42 489.90) rotate(0.03) scale(1.011 1)" letter-spacing="0.2">0.0</text>
<text class="s" font-size="17.80" transform="translate(256.69 489.90) rotate(0.03) scale(1.011 1)" letter-spacing="0.2">0.5</text>
<text class="s" font-size="17.80" transform="translate(331.95 489.90) rotate(0.03) scale(1.011 1)" letter-spacing="0.2">1.0</text>
<text class="s" font-size="18.8" transform="translate(172.40 512.7) rotate(0.03) scale(0.9 1)">Φ</text><text class="s" font-size="27" x="185.00" y="518.2">/</text><text class="s" font-size="18.8" transform="translate(193.80 512.7) rotate(0.03) scale(0.9 1)">Φ</text><text class="s" font-size="11.8" transform="translate(206.50 514.9) rotate(0.03) scale(1.15 1)">0</text>
<text class="s" font-size="17.8" x="355.65" y="491.1" textLength="12.64" lengthAdjust="spacingAndGlyphs">−</text><text class="s" font-size="17.80" transform="translate(368.65 489.90) rotate(0.03) scale(1.011 1)" letter-spacing="0.2">1.0</text>
<text class="s" font-size="17.8" x="430.91" y="491.1" textLength="12.64" lengthAdjust="spacingAndGlyphs">−</text><text class="s" font-size="17.80" transform="translate(443.91 489.90) rotate(0.03) scale(1.011 1)" letter-spacing="0.2">0.5</text>
<text class="s" font-size="17.80" transform="translate(512.58 489.90) rotate(0.03) scale(1.011 1)" letter-spacing="0.2">0.0</text>
<text class="s" font-size="17.80" transform="translate(587.84 489.90) rotate(0.03) scale(1.011 1)" letter-spacing="0.2">0.5</text>
<text class="s" font-size="17.80" transform="translate(663.10 489.90) rotate(0.03) scale(1.011 1)" letter-spacing="0.2">1.0</text>
<text class="s" font-size="18.8" transform="translate(503.55 512.7) rotate(0.03) scale(0.9 1)">Φ</text><text class="s" font-size="27" x="516.15" y="518.2">/</text><text class="s" font-size="18.8" transform="translate(524.95 512.7) rotate(0.03) scale(0.9 1)">Φ</text><text class="s" font-size="11.8" transform="translate(537.65 514.9) rotate(0.03) scale(1.15 1)">0</text>
<text class="s i" font-size="16" x="164.40" y="12.3" textLength="11.5" lengthAdjust="spacingAndGlyphs">α</text><text class="s" font-size="17.8" x="179.70" y="13.1" textLength="14.8" lengthAdjust="spacingAndGlyphs">=</text><text class="s" font-size="17.80" transform="translate(198.60 12.20) rotate(0.03) scale(1.011 1)" letter-spacing="0.2">0.5</text>
<text class="s i" font-size="16" x="502.30" y="12.3" textLength="11.5" lengthAdjust="spacingAndGlyphs">α</text><text class="s" font-size="17.8" x="517.90" y="13.1" textLength="14.8" lengthAdjust="spacingAndGlyphs">=</text><text class="s" font-size="17.80" transform="translate(536.80 12.20) rotate(0.03) scale(1.011 1)" letter-spacing="0.2">1</text>
<g fill="#bf00bf"><text class="s" font-size="18.6" stroke="#fff" stroke-width="0.3" transform="translate(117.90 72.80) rotate(0.03)">(</text><text class="s i" font-size="16.4" transform="translate(124.40 72.60) rotate(0.03) scale(1.1 1)">a</text><text class="s" font-size="18.6" stroke="#fff" stroke-width="0.3" transform="translate(133.90 72.80) rotate(0.03)">)</text></g>
<g fill="#bf00bf"><text class="s" font-size="18.6" stroke="#fff" stroke-width="0.3" transform="translate(433.90 69.20) rotate(0.03)">(</text><text class="s i" font-size="16.4" transform="translate(439.90 69.00) rotate(0.03) scale(1.1 1)">b</text><text class="s" font-size="18.6" stroke="#fff" stroke-width="0.3" transform="translate(448.10 69.20) rotate(0.03)">)</text></g>
<g fill="#bf00bf"><text class="s" font-size="18.6" stroke="#fff" stroke-width="0.3" transform="translate(118.10 247.40) rotate(0.03)">(</text><text class="s i" font-size="16.4" transform="translate(124.60 247.20) rotate(0.03) scale(1.1 1)">c</text><text class="s" font-size="18.6" stroke="#fff" stroke-width="0.3" transform="translate(132.10 247.40) rotate(0.03)">)</text></g>
<g fill="#bf00bf"><text class="s" font-size="18.6" stroke="#fff" stroke-width="0.3" transform="translate(434.10 247.40) rotate(0.03)">(</text><text class="s i" font-size="16.4" transform="translate(440.40 247.20) rotate(0.03) scale(1.1 1)">d</text><text class="s" font-size="18.6" stroke="#fff" stroke-width="0.3" transform="translate(449.90 247.40) rotate(0.03)">)</text></g>
<g fill="#bf00bf"><text class="s" font-size="18.6" stroke="#fff" stroke-width="0.3" transform="translate(118.50 392.80) rotate(0.03)">(</text><text class="s i" font-size="16.4" transform="translate(124.80 392.60) rotate(0.03) scale(1.1 1)">e</text><text class="s" font-size="18.6" stroke="#fff" stroke-width="0.3" transform="translate(132.10 392.80) rotate(0.03)">)</text></g>
<g fill="#bf00bf"><text class="s" font-size="18.6" stroke="#fff" stroke-width="0.3" transform="translate(434.40 395.60) rotate(0.03)">(</text><text class="s i" font-size="16.4" transform="translate(441.20 395.40) rotate(0.03) scale(1.1 1)">f</text><text class="s" font-size="18.6" stroke="#fff" stroke-width="0.3" transform="translate(450.70 395.60) rotate(0.03)">)</text></g>
<g transform="translate(13.70 125.10) rotate(-90)"><text class="s i" font-size="17.2" transform="translate(-0.3 0) scale(1.15 1)">μ</text><text class="s" font-size="18.2" x="9.1" y="4.6">↑</text><text class="ss" font-size="19.2" x="22.10" y="0.4" stroke="#fff" stroke-width="0.3">(</text><text class="ss" font-size="15.4" x="29.40" y="0.5" textLength="25.9" lengthAdjust="spacing" stroke="#fff" stroke-width="0.3">a.u.</text><text class="ss" font-size="19.2" x="55.70" y="0.4" stroke="#fff" stroke-width="0.3">)</text></g>
<g transform="translate(13.70 277.90) rotate(-90)"><text class="s i" font-size="17.2" transform="translate(-0.3 0) scale(1.15 1)">μ</text><text class="s" font-size="18.2" x="9.1" y="4.6">↓</text><text class="ss" font-size="19.2" x="22.10" y="0.4" stroke="#fff" stroke-width="0.3">(</text><text class="ss" font-size="15.4" x="29.40" y="0.5" textLength="25.9" lengthAdjust="spacing" stroke="#fff" stroke-width="0.3">a.u.</text><text class="ss" font-size="19.2" x="55.70" y="0.4" stroke="#fff" stroke-width="0.3">)</text></g>
<g transform="translate(13.70 431.00) rotate(-90)"><text class="s i" font-size="17.2" transform="translate(-0.3 0) scale(1.15 1)">μ</text><text class="s i" font-size="13.2" transform="translate(9.9 3.0) scale(1.2 1)">S</text><text class="ss" font-size="19.2" x="24.10" y="0.4" stroke="#fff" stroke-width="0.3">(</text><text class="ss" font-size="15.4" x="31.40" y="0.5" textLength="25.9" lengthAdjust="spacing" stroke="#fff" stroke-width="0.3">a.u.</text><text class="ss" font-size="19.2" x="57.70" y="0.4" stroke="#fff" stroke-width="0.3">)</text></g>
</svg>
</body></html>
